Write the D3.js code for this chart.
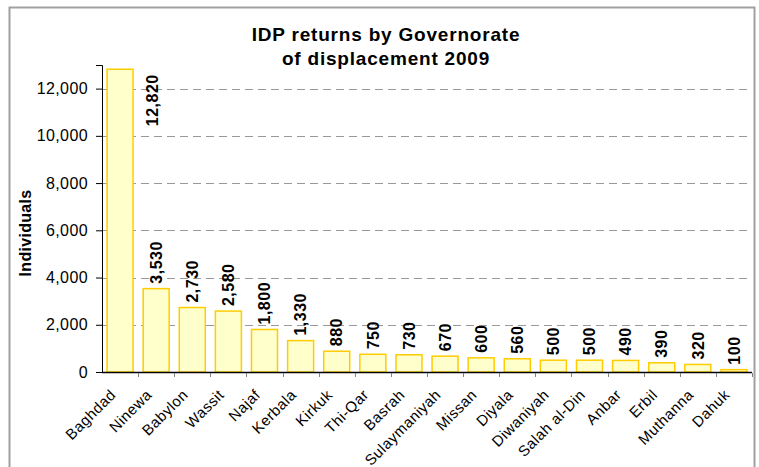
<!DOCTYPE html>
<html>
<head>
<meta charset="utf-8">
<script src="https://cdn.jsdelivr.net/npm/d3@7"></script>
<style>
  body { margin: 0; background: #fff; }
  text { font-family: "Liberation Sans", Arial, sans-serif; }
</style>
</head>
<body>
<div id="wrapper"></div>
<script>
/* DATA */
const governorates = ['Baghdad', 'Ninewa', 'Babylon', 'Wassit', 'Najaf', 'Kerbala', 'Kirkuk', 'Thi-Qar', 'Basrah',
  'Sulaymaniyah', 'Missan', 'Diyala', 'Diwaniyah', 'Salah al-Din', 'Anbar', 'Erbil', 'Muthanna', 'Dahuk']
const returns = [12820, 3530, 2730, 2580, 1800, 1330, 880, 750, 730, 670, 600, 560, 500, 500, 490, 390, 320, 100]
const yTicks = [0, 2000, 4000, 6000, 8000, 10000, 12000]
const titleLines = ['IDP returns by Governorate', 'of displacement 2009']
const yLabel = 'Individuals'

const dataset = governorates.map((name, i) => ({ name, value: returns[i] }))

/* DIMENSIONS */
const dimensions = {
  width: 759,
  height: 467,
  margin: { top: 65, right: 7, bottom: 95, left: 102 }
}
dimensions.boundedWidth = dimensions.width - dimensions.margin.left - dimensions.margin.right
dimensions.boundedHeight = dimensions.height - dimensions.margin.top - dimensions.margin.bottom

/* SCALES */
const xScale = d3.scaleBand()
  .domain(governorates)
  .range([0, dimensions.boundedWidth])
  .paddingInner(0.28)
  .paddingOuter(0.14)

const yScale = d3.scaleLinear()
  .domain([0, 13000])
  .range([dimensions.boundedHeight, 0])

const fmt = d3.format(',')

/* DRAW */
const wrapper = d3.select('#wrapper')
  .append('svg')
  .attr('width', dimensions.width)
  .attr('height', dimensions.height)

// outer frame
wrapper.append('rect')
  .attr('x', 9.5)
  .attr('y', 7.5)
  .attr('width', 745)
  .attr('height', 480)
  .attr('fill', 'none')
  .attr('stroke', '#a0a0a0')
  .attr('stroke-width', 2)

const title = wrapper.append('text')
  .attr('text-anchor', 'middle')
  .attr('font-size', 19)
  .attr('font-weight', 'bold')
  .attr('letter-spacing', 0.8)
  .attr('fill', '#000')
title.selectAll('tspan')
  .data(titleLines)
  .join('tspan')
  .attr('x', 386)
  .attr('y', (d, i) => 41 + i * 24)
  .text(d => d)

const bounds = wrapper.append('g')
  .attr('transform', `translate(${dimensions.margin.left}, ${dimensions.margin.top})`)

// grid
bounds.append('g')
  .selectAll('line')
  .data(yTicks.filter(d => d > 0))
  .join('line')
  .attr('x1', 0)
  .attr('x2', dimensions.boundedWidth)
  .attr('y1', d => Math.round(yScale(d)) + 0.5)
  .attr('y2', d => Math.round(yScale(d)) + 0.5)
  .attr('stroke', '#999')
  .attr('stroke-dasharray', '8 5')

// bars
bounds.append('g')
  .selectAll('rect')
  .data(dataset)
  .join('rect')
  .attr('x', d => xScale(d.name))
  .attr('y', d => yScale(d.value))
  .attr('width', xScale.bandwidth())
  .attr('height', d => dimensions.boundedHeight - yScale(d.value))
  .attr('fill', '#ffffcc')
  .attr('stroke', '#ffcc00')
  .attr('stroke-width', 1.5)

// value labels (tallest one goes beside its bar)
bounds.append('g')
  .attr('font-size', 16)
  .attr('font-weight', 'bold')
  .attr('letter-spacing', 0.5)
  .selectAll('text')
  .data(dataset)
  .join('text')
  .attr('transform', d => {
    const cx = xScale(d.name) + xScale.bandwidth() / 2
    if (d.value > 12000) return `translate(${cx + 32}, ${yScale(d.value) + 5}) rotate(-90)`
    return `translate(${cx}, ${yScale(d.value) - 5}) rotate(-90)`
  })
  .attr('text-anchor', d => d.value > 12000 ? 'end' : 'start')
  .attr('dy', '0.36em')
  .text(d => fmt(d.value))

// y axis
const yAxis = bounds.append('g')
  .call(d3.axisLeft(yScale).tickValues(yTicks).tickSize(6).tickPadding(8).tickFormat(fmt))
yAxis.select('.domain').attr('stroke', '#000')
yAxis.selectAll('.tick line').attr('stroke', '#000')
yAxis.selectAll('text')
  .attr('font-size', 16)
  .attr('letter-spacing', 0.4)
  .attr('font-family', '"Liberation Sans", Arial, sans-serif')
  .attr('fill', '#000')

// x axis
const xAxis = bounds.append('g')
  .attr('transform', `translate(0, ${dimensions.boundedHeight})`)
xAxis.append('line')
  .attr('x1', 0)
  .attr('x2', dimensions.boundedWidth)
  .attr('y1', 0.5)
  .attr('y2', 0.5)
  .attr('stroke', '#000')
  .attr('stroke-width', 1.5)
xAxis.selectAll('line.tick')
  .data(governorates.slice(1).concat(['end']))
  .join('line')
  .attr('class', 'tick')
  .attr('x1', (d, i) => Math.round((i + 1) * xScale.step() + xScale.step() * (xScale.paddingOuter() - xScale.paddingInner() / 2)) + 0.5)
  .attr('x2', (d, i) => Math.round((i + 1) * xScale.step() + xScale.step() * (xScale.paddingOuter() - xScale.paddingInner() / 2)) + 0.5)
  .attr('y1', 1)
  .attr('y2', 5)
  .attr('stroke', '#808080')
xAxis.selectAll('text')
  .data(governorates)
  .join('text')
  .attr('transform', d => `translate(${xScale(d) + xScale.bandwidth() / 2 - 7}, 20) rotate(-45)`)
  .attr('text-anchor', 'end')
  .attr('dy', '0.35em')
  .attr('font-size', 15)
  .attr('letter-spacing', 0.5)
  .attr('fill', '#000')
  .text(d => d)

// y label
wrapper.append('text')
  .attr('transform', `translate(25, 233) rotate(-90)`)
  .attr('text-anchor', 'middle')
  .attr('dy', '0.35em')
  .attr('font-size', 16)
  .attr('font-weight', 'bold')
  .attr('letter-spacing', 0.3)
  .text(yLabel)
</script>
</body>
</html>
